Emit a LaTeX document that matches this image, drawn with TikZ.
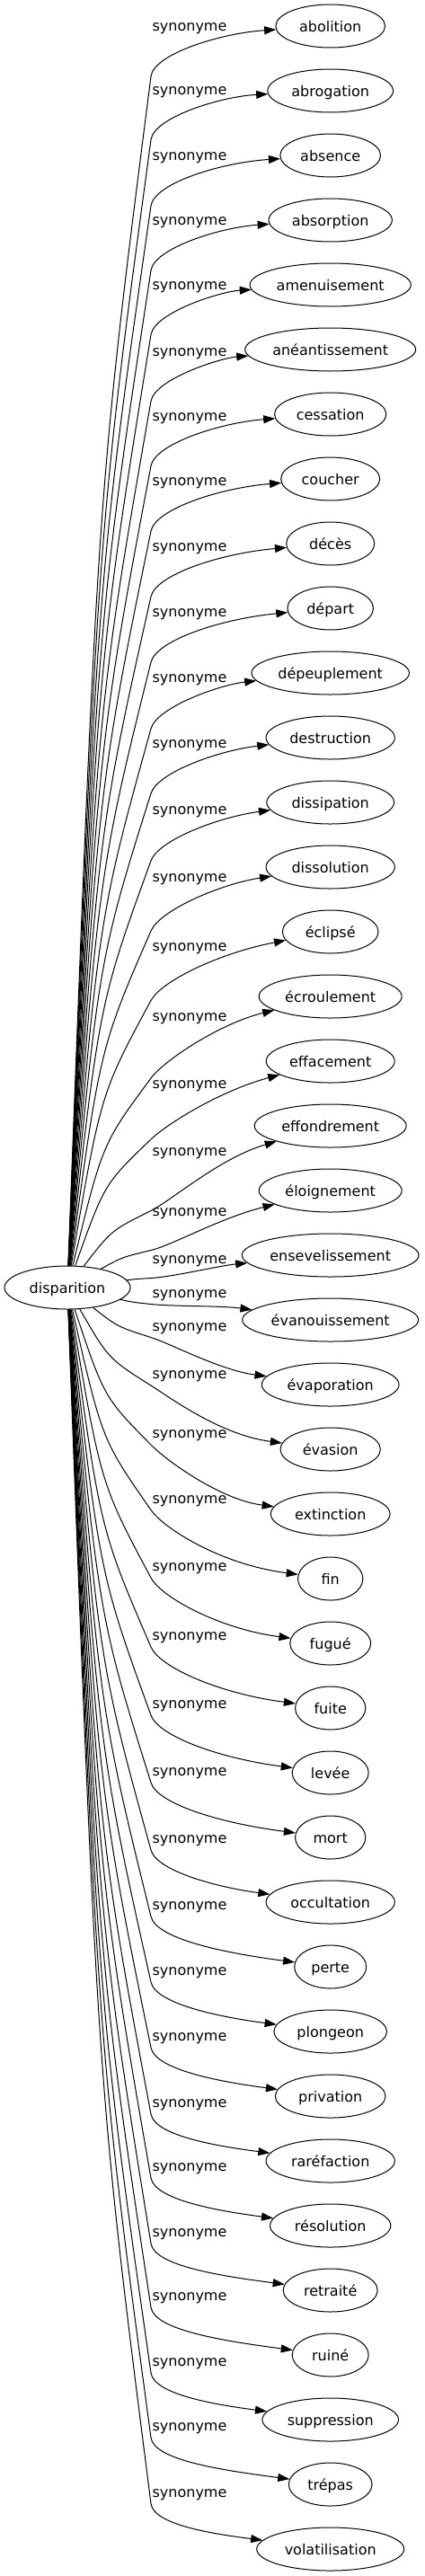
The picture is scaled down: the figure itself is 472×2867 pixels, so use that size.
\documentclass[tikz,border=0pt]{standalone}
\usepackage{fontspec}
\setmainfont{DejaVu Sans}
\usetikzlibrary{shapes.geometric,arrows.meta,calc}

\begin{document}
\begin{tikzpicture}[x=1pt,y=-1pt,
        every node/.style={font=\fontsize{16}{19}\selectfont},
        word/.style={ellipse,draw,line width=1pt,inner sep=0pt,minimum height=48pt,text height=12pt,text depth=0pt},
        rel/.style={inner sep=0pt,anchor=base},
        link/.style={line width=1pt,-{Triangle[length=13pt,width=9pt]}}]
    \useasboundingbox[fill=white] (0,0) rectangle (472,2867);
    % Source word
    \node[word,minimum width=140pt] (dis) at (75,1433) {disparition};
    % Synonyms: name/ellipse width/label y/bend depth
    \foreach \name/\w/\ly/\a [count=\i] in {abolition/121.7/30/55, abrogation/139.7/100.5/55,
            absence/111.7/174/55, absorption/137.3/246/55, amenuisement/179.3/317.5/55,
            anéantissement/190/391.5/55, cessation/124.3/463.5/55, coucher/110/536/55,
            décès/98/609/55, départ/95.5/682/55, dépeuplement/175.5/755/56,
            destruction/143.3/828/55, dissipation/141.7/902/56, dissolution/143.3/977/59,
            éclipsé/106.7/1053.5/60, écroulement/159/1132/68, effacement/143/1207/61,
            effondrement/169/1281.5/66, éloignement/159/1348.5/43, ensevelissement/196.7/1401.5/21,
            évanouissement/196/1439.5/12, évaporation/152.7/1476.5/12, évasion/111.3/1530/12,
            extinction/132.7/1596/12, fin/72.3/1668.5/12, fugué/90/1744/12,
            fuite/78.3/1821/12, levée/85/1897/12, mort/78.3/1972/12,
            occultation/143.3/2047/12, perte/80/2121/12, plongeon/125.7/2194/12,
            privation/122.7/2267/12, raréfaction/143.3/2341/12, résolution/134.3/2412/12,
            retraité/105/2485/12, ruiné/85/2556/12, suppression/151.7/2629/12,
            trépas/92.7/2701/12, volatilisation/164/2774.5/12}{
        \node[word,minimum width=\w pt] (t\i) at (367.7,{29+72*(\i-1)}) {\name};
        \node[rel] (l\i) at (211,{\ly+4.5}) {synonyme};
        % bend points of the edge
        \coordinate (a\i) at (168,{\ly+\a});
        \ifnum\i<21
            \coordinate (e\i) at (245,{\ly+7});
        \else
            \coordinate (e\i) at (245,{29+72*(\i-1)-16});
        \fi
        \path (dis) -- (a\i) coordinate[pos=0] (s\i);
        \coordinate (qx\i) at ($(s\i)!0.35!(a\i)$);
        \coordinate (qy\i) at ($(s\i)!0.65!(a\i)$);
        \coordinate (q\i) at (qx\i |- qy\i);
        \coordinate (c\i) at ($(a\i)!-25pt!(q\i)$);
        \draw[link] (dis) .. controls (q\i) .. (a\i) .. controls (c\i) and (e\i) .. (t\i);
    }
\end{tikzpicture}
\end{document}
